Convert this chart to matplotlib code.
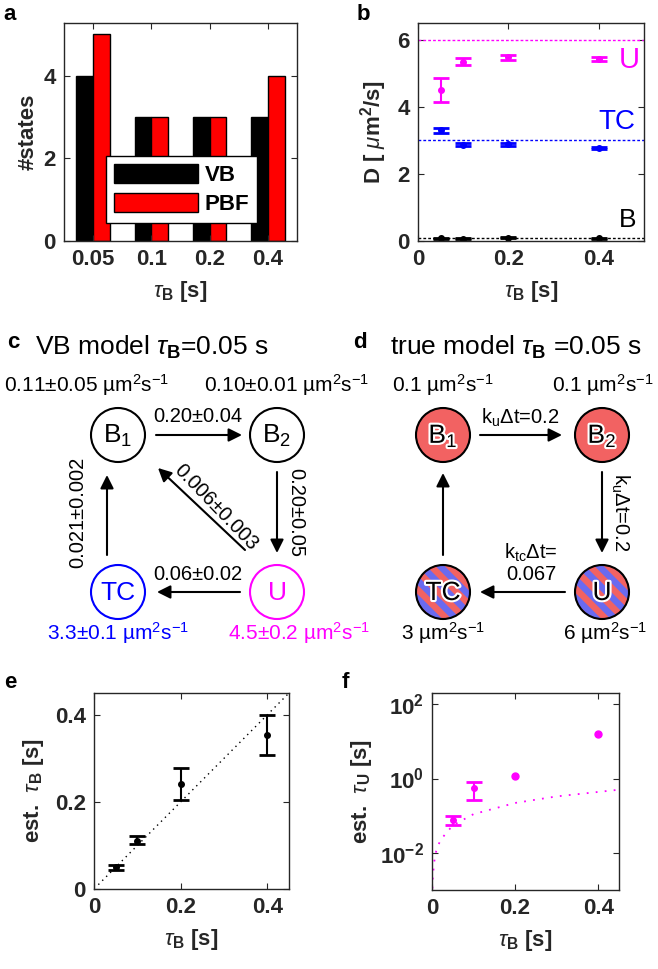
import matplotlib
matplotlib.use('Agg')
import matplotlib.pyplot as plt
import numpy as np
from matplotlib.patches import Circle, Polygon
import matplotlib.patheffects as pe

plt.rcParams['font.family'] = ['Liberation Sans', 'DejaVu Sans']
plt.rcParams['mathtext.fontset'] = 'custom'
plt.rcParams['mathtext.rm'] = 'Liberation Sans'
plt.rcParams['mathtext.it'] = 'Liberation Sans:italic'
plt.rcParams['mathtext.bf'] = 'Liberation Sans:bold'

# ---------------- data ----------------
tau_labels = ['0.05', '0.1', '0.2', '0.4']
n_states_vb = [4, 3, 3, 3]
n_states_pbf = [5, 3, 3, 4]

tau_b = [0.05, 0.1, 0.2, 0.4]
D_U = [4.50, 5.35, 5.48, 5.43]
D_U_err = [0.35, 0.10, 0.07, 0.07]
D_TC = [3.30, 2.87, 2.88, 2.78]
D_TC_err = [0.08, 0.04, 0.04, 0.03]
D_B = [0.08, 0.07, 0.10, 0.08]
D_B_err = [0.02, 0.02, 0.02, 0.02]
D_true_U = 6.0
D_true_TC = 3.0
D_true_B = 0.1

est_tau_b = [0.050, 0.111, 0.241, 0.353]
est_tau_b_lo = [0.044, 0.103, 0.205, 0.308]
est_tau_b_hi = [0.056, 0.121, 0.277, 0.399]
ref_e_x = [0.01, 0.45]
ref_e_y = [0.01, 0.45]

est_tau_u = [0.075, 0.55, 1.17, 15.5]
est_tau_u_lo = [0.057, 0.27, np.nan, np.nan]
est_tau_u_hi = [0.096, 0.81, np.nan, np.nan]
theory_f_x = [0.001, 0.002, 0.005, 0.01, 0.02, 0.05, 0.1, 0.2, 0.3, 0.45]
theory_f_y = [0.0011, 0.0022, 0.0055, 0.011, 0.022, 0.055, 0.11, 0.22, 0.33, 0.5]

# diagram texts
c_D_top = ['0.11±0.05 µm$^2$s$^{-1}$', '0.10±0.01 µm$^2$s$^{-1}$']
c_D_bot = ['3.3±0.1 µm$^2$s$^{-1}$', '4.5±0.2 µm$^2$s$^{-1}$']
c_rates = ['0.20±0.04', '0.20±0.05', '0.06±0.02', '0.021±0.002', '0.006±0.003']
d_D_top = ['0.1 µm$^2$s$^{-1}$', '0.1 µm$^2$s$^{-1}$']
d_D_bot = ['3 µm$^2$s$^{-1}$', '6 µm$^2$s$^{-1}$']
d_rates = ['k$_\\mathrm{u}$Δt=0.2', 'k$_\\mathrm{u}$Δt=0.2', 'k$_\\mathrm{tc}$Δt=\n0.067']

GREY = '#262626'
MAG = '#FF00FF'
BLUE = '#0000FF'

W, H = 658, 969
fig = plt.figure(figsize=(W / 100, H / 100), dpi=100)


def rect(l, t, r, b):
    return [l / W, 1 - b / H, (r - l) / W, (b - t) / H]


def style_axes(ax):
    for s in ax.spines.values():
        s.set_color(GREY)
        s.set_linewidth(1.0)
    ax.tick_params(direction='in', top=True, right=True, length=4, width=0.8,
                   colors=GREY, labelsize=16, pad=6)
    ax.tick_params(which='minor', direction='in', top=True, right=True, length=2, width=0.6, colors=GREY)


def bold_labels(ax):
    for lbl in ax.get_xticklabels() + ax.get_yticklabels():
        lbl.set_fontweight('bold')
        lbl.set_color(GREY)


XL = r'$\tau_{\mathbf{B}}$ [s]'

# ---------------- panel a ----------------
axa = fig.add_axes(rect(64, 23, 297, 241))
pos = np.arange(1, 5)
bw = 0.286
b1 = axa.bar(pos - bw / 2, n_states_vb, bw, color='k', edgecolor='k', linewidth=1)
b2 = axa.bar(pos + bw / 2, n_states_pbf, bw, color='#FF0000', edgecolor='k', linewidth=1)
axa.set_xlim(0.5, 4.5)
axa.set_ylim(0, 5.27)
axa.set_xticks(pos)
axa.set_xticklabels(tau_labels)
axa.set_yticks([0, 2, 4])
style_axes(axa)
bold_labels(axa)
axa.set_ylabel('#states', fontsize=16, fontweight='bold', color=GREY, labelpad=3)
axa.set_xlabel(XL, fontsize=16, fontweight='bold', color=GREY, labelpad=6)
leg = axa.legend([b1, b2], ['VB', 'PBF'], loc='lower left', bbox_to_anchor=(0.18, 0.083),
                 prop={'weight': 'bold', 'size': 16}, handlelength=3.8, handleheight=0.95,
                 fancybox=False, edgecolor='k', framealpha=1, borderpad=0.35,
                 labelspacing=0.3, handletextpad=0.3, borderaxespad=0)
leg.get_frame().set_linewidth(1)

# ---------------- panel b ----------------
axb = fig.add_axes(rect(418, 23, 644, 241))
dot = (0, (2, 1.5))
axb.axhline(D_true_U, color=MAG, ls=dot, lw=1)
axb.axhline(D_true_TC, color=BLUE, ls=dot, lw=1)
axb.axhline(D_true_B, color='k', ls=dot, lw=1)
ekw = dict(fmt='.', capsize=6, elinewidth=1.5, capthick=2, markersize=8)
axb.errorbar(tau_b, D_U, yerr=D_U_err, color=MAG, **ekw)
axb.errorbar(tau_b, D_TC, yerr=D_TC_err, color=BLUE, **ekw)
axb.errorbar(tau_b, D_B, yerr=D_B_err, color='k', **ekw)
axb.text(0.468, 5.40, 'U', color=MAG, fontsize=21, ha='center', va='center')
axb.text(0.440, 3.55, 'TC', color=BLUE, fontsize=20, ha='center', va='center')
axb.text(0.464, 0.63, 'B', color='k', fontsize=19, ha='center', va='center')
axb.set_xlim(0, 0.5)
axb.set_ylim(0, 6.5)
axb.set_xticks([0, 0.2, 0.4])
axb.set_xticklabels(['0', '0.2', '0.4'])
axb.set_yticks([0, 2, 4, 6])
style_axes(axb)
bold_labels(axb)
axb.set_ylabel(r'D [ $\mu$m$^{\mathbf{2}}$/s]', fontsize=16, fontweight='bold', color=GREY, labelpad=6)
axb.set_xlabel(XL, fontsize=16, fontweight='bold', color=GREY, labelpad=6)

# ---------------- panel e ----------------
axe = fig.add_axes(rect(94, 693, 289, 889))
axe.plot(ref_e_x, ref_e_y, color='k', ls=(0, (1, 3)), lw=1)
yerr_e = [np.array(est_tau_b) - np.array(est_tau_b_lo), np.array(est_tau_b_hi) - np.array(est_tau_b)]
axe.errorbar(tau_b, est_tau_b, yerr=yerr_e, color='k', **ekw)
axe.set_xlim(0, 0.45)
axe.set_ylim(0, 0.45)
axe.set_xticks([0, 0.2, 0.4])
axe.set_xticklabels(['0', '0.2', '0.4'])
axe.set_yticks([0, 0.2, 0.4])
axe.set_yticklabels(['0', '0.2', '0.4'])
style_axes(axe)
bold_labels(axe)
axe.set_ylabel(r'est.  $\tau_{\mathbf{B}}$ [s]', fontsize=16, fontweight='bold', color=GREY, labelpad=6)
axe.set_xlabel(XL, fontsize=16, fontweight='bold', color=GREY, labelpad=6)

# ---------------- panel f ----------------
axf = fig.add_axes(rect(432, 693, 619, 890))
axf.plot(theory_f_x, theory_f_y, color=MAG, ls=(0, (1, 4)), lw=1.3)
tu = np.array(est_tau_u)
lo = np.array(est_tau_u_lo)
hi = np.array(est_tau_u_hi)
ok = np.isfinite(lo)
axf.errorbar(np.array(tau_b)[ok], tu[ok], yerr=[tu[ok] - lo[ok], hi[ok] - tu[ok]], color=MAG, **ekw)
axf.plot(np.array(tau_b)[~ok], tu[~ok], '.', color=MAG, markersize=10)
axf.set_yscale('log')
axf.set_xlim(0, 0.45)
axf.set_ylim(1e-3, 200)
axf.set_xticks([0, 0.2, 0.4])
axf.set_xticklabels(['0', '0.2', '0.4'])
axf.set_yticks([1e-2, 1e0, 1e2])
axf.set_yticklabels([r'$\mathbf{10^{-2}}$', r'$\mathbf{10^{0}}$', r'$\mathbf{10^{2}}$'])
style_axes(axf)
bold_labels(axf)
axf.set_ylabel(r'est.  $\tau_{\mathbf{U}}$ [s]', fontsize=16, fontweight='bold', color=GREY, labelpad=4)
axf.set_xlabel(XL, fontsize=16, fontweight='bold', color=GREY, labelpad=6)

# ---------------- diagrams c, d ----------------
dax = fig.add_axes([0, 0, 1, 1])
dax.set_xlim(0, W)
dax.set_ylim(H, 0)
dax.axis('off')
dax.set_zorder(-1)

R = 27
RED = '#F26262'
SBLUE = '#6A6AF0'


def plain_circle(cx, cy, ec, label, tc):
    dax.add_patch(Circle((cx, cy), R, fc='white', ec=ec, lw=1.5))
    dax.text(cx, cy + 1, label, ha='center', va='center', fontsize=19, color=tc)


def filled_circle(cx, cy, label, striped=False):
    base = Circle((cx, cy), R, fc=RED, ec='none')
    dax.add_patch(base)
    if striped:
        w = 6.5
        d = np.array([1, 1]) / np.sqrt(2)
        n = np.array([1, -1]) / np.sqrt(2)
        c = np.array([cx, cy])
        for k in range(-6, 7, 2):
            p1 = c + n * k * w - d * 2 * R
            p2 = c + n * k * w + d * 2 * R
            p3 = c + n * (k + 1) * w + d * 2 * R
            p4 = c + n * (k + 1) * w - d * 2 * R
            poly = Polygon([p1, p2, p3, p4], fc=SBLUE, ec='none')
            dax.add_patch(poly)
            poly.set_clip_path(base)
    dax.add_patch(Circle((cx, cy), R, fc='none', ec='k', lw=1.5))
    t = dax.text(cx, cy + 1, label, ha='center', va='center', fontsize=19, color='k')
    t.set_path_effects([pe.Stroke(linewidth=3, foreground='white'), pe.Normal()])


def arrow(x0, y0, x1, y1):
    dax.annotate('', xy=(x1, y1), xytext=(x0, y0),
                 arrowprops=dict(arrowstyle='-|>', lw=1.5, color='k', mutation_scale=20,
                                 shrinkA=0, shrinkB=0))


# panel c
fig.text(7 / W, 1 - 343 / H, 'c', fontsize=16, fontweight='bold', va='center')
dax.text(35, 347, r'VB model $\tau_{\mathbf{B}}$=0.05 s', fontsize=19, va='center', ha='left')
dax.text(87, 385, c_D_top[0], fontsize=15, ha='center', va='center')
dax.text(287, 385, c_D_top[1], fontsize=15, ha='center', va='center')
dax.text(118, 633, c_D_bot[0], fontsize=15, ha='center', va='center', color=BLUE)
dax.text(299, 633, c_D_bot[1], fontsize=15, ha='center', va='center', color=MAG)
plain_circle(118, 435, 'k', 'B$_1$', 'k')
plain_circle(277, 435, 'k', 'B$_2$', 'k')
plain_circle(118, 592, BLUE, 'TC', BLUE)
plain_circle(277, 592, MAG, 'U', MAG)
arrow(156, 435, 242, 435)
arrow(277, 472, 277, 553)
arrow(240, 592, 157, 592)
arrow(107, 555, 107, 475)
arrow(245, 550, 158, 468)
dax.text(198, 417, c_rates[0], fontsize=14.5, ha='center', va='center')
dax.text(296, 513, c_rates[1], fontsize=14.5, ha='center', va='center', rotation=-90)
dax.text(198, 575, c_rates[2], fontsize=14.5, ha='center', va='center')
dax.text(78, 512, c_rates[3], fontsize=14.5, ha='center', va='center', rotation=90)
dax.text(216, 507, c_rates[4], fontsize=14.5, ha='center', va='center', rotation=-46,
         rotation_mode='anchor')

# panel d
fig.text(360 / W, 1 - 343 / H, 'd', fontsize=16, fontweight='bold', va='center', ha='center')
dax.text(390, 347, r'true model $\tau_{\mathbf{B}}$ =0.05 s', fontsize=19, va='center', ha='left')
dax.text(443, 385, d_D_top[0], fontsize=15, ha='center', va='center')
dax.text(603, 385, d_D_top[1], fontsize=15, ha='center', va='center')
dax.text(443, 633, d_D_bot[0], fontsize=15, ha='center', va='center')
dax.text(605, 633, d_D_bot[1], fontsize=15, ha='center', va='center')
filled_circle(443, 435, 'B$_1$')
filled_circle(602, 435, 'B$_2$')
filled_circle(443, 592, 'TC', striped=True)
filled_circle(602, 592, 'U', striped=True)
arrow(480, 435, 562, 435)
arrow(602, 472, 602, 553)
arrow(565, 592, 480, 592)
arrow(443, 555, 443, 473)
dax.text(520, 418, d_rates[0], fontsize=14.5, ha='center', va='center')
dax.text(620, 512, d_rates[1], fontsize=14.5, ha='center', va='center', rotation=-90)
dax.text(531, 563, d_rates[2], fontsize=14.5, ha='center', va='center', linespacing=1.1)

# panel letters
fig.text(10 / W, 1 - 15 / H, 'a', fontsize=16, fontweight='bold', va='center', ha='center')
fig.text(363 / W, 1 - 15 / H, 'b', fontsize=16, fontweight='bold', va='center', ha='center')
fig.text(10 / W, 1 - 683 / H, 'e', fontsize=16, fontweight='bold', va='center', ha='center')
fig.text(345 / W, 1 - 683 / H, 'f', fontsize=16, fontweight='bold', va='center', ha='center')

fig.savefig('out.png', dpi=100)
